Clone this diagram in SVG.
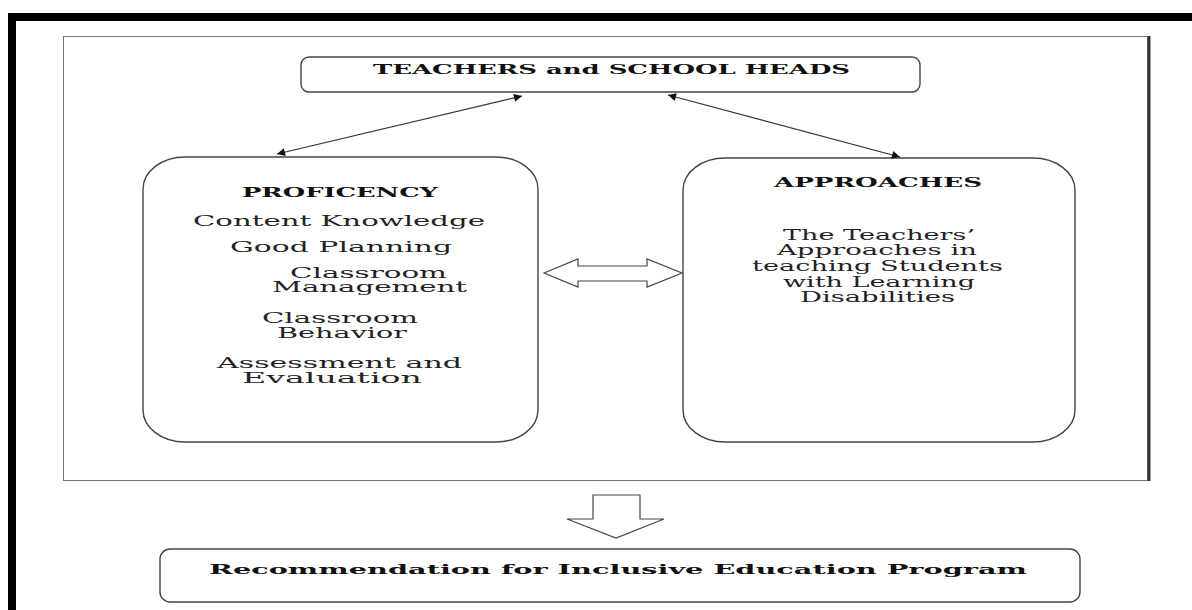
<svg xmlns="http://www.w3.org/2000/svg" width="1192" height="610" viewBox="0 0 1192 610">
<style>
.box{fill:#fff;stroke:#444;stroke-width:1.4}
.t{font-family:"DejaVu Serif","Liberation Serif",serif;font-size:14px;fill:#222}
.b{font-family:"DejaVu Serif","Liberation Serif",serif;font-size:13px;font-weight:bold;fill:#111}
.con{stroke:#333;stroke-width:1.2;fill:none}
.blk{fill:#fff;stroke:#444;stroke-width:1.2}
</style>
<defs>
<marker id="ah" viewBox="0 0 10 10" refX="10" refY="5" markerWidth="10" markerHeight="8" markerUnits="userSpaceOnUse" orient="auto-start-reverse">
<path d="M0,0 L10,5 L0,10 z" fill="#111"/>
</marker>
</defs>
<rect width="1192" height="610" fill="#fff"/>
<g id="frame">
<rect x="8" y="13" width="1184" height="8" fill="#000"/>
<rect x="8" y="13" width="8" height="597" fill="#000"/>
<rect x="63.5" y="36.5" width="1084" height="444" fill="none" stroke="#777" stroke-width="1"/>
<line x1="1149" y1="36" x2="1149" y2="481" stroke="#333" stroke-width="3"/>
</g>
<g id="teachers">
<rect class="box" x="301" y="57" width="619" height="35" rx="8" ry="8"/>
<text class="b" x="373" y="74" textLength="477" lengthAdjust="spacingAndGlyphs">TEACHERS and SCHOOL HEADS</text>
</g>
<g id="proficiency">
<rect class="box" x="143" y="157" width="395" height="285" rx="42" ry="32"/>
<text class="b" x="242" y="197" font-size="12" textLength="196" lengthAdjust="spacingAndGlyphs">PROFICENCY</text>
<text class="t" x="193" y="226" textLength="292" lengthAdjust="spacingAndGlyphs">Content Knowledge</text>
<text class="t" x="230" y="252" textLength="222" lengthAdjust="spacingAndGlyphs">Good Planning</text>
<text class="t" x="290" y="278" textLength="157" lengthAdjust="spacingAndGlyphs">Classroom</text>
<text class="t" x="272" y="292" textLength="195" lengthAdjust="spacingAndGlyphs">Management</text>
<text class="t" x="262" y="323" textLength="156" lengthAdjust="spacingAndGlyphs">Classroom</text>
<text class="t" x="277" y="338" textLength="130" lengthAdjust="spacingAndGlyphs">Behavior</text>
<text class="t" x="217" y="368" textLength="245" lengthAdjust="spacingAndGlyphs">Assessment and</text>
<text class="t" x="242" y="383" textLength="180" lengthAdjust="spacingAndGlyphs">Evaluation</text>
</g>
<g id="approaches">
<rect class="box" x="683" y="158" width="392" height="284" rx="42" ry="32"/>
<text class="b" x="774" y="187" textLength="208" lengthAdjust="spacingAndGlyphs">APPROACHES</text>
<text class="t" x="783" y="240" textLength="192" lengthAdjust="spacingAndGlyphs">The Teachers’</text>
<text class="t" x="777" y="255" textLength="200" lengthAdjust="spacingAndGlyphs">Approaches in</text>
<text class="t" x="752" y="271" textLength="251" lengthAdjust="spacingAndGlyphs">teaching Students</text>
<text class="t" x="783" y="287" textLength="192" lengthAdjust="spacingAndGlyphs">with Learning</text>
<text class="t" x="800" y="302" textLength="155" lengthAdjust="spacingAndGlyphs">Disabilities</text>
</g>
<g id="recommendation">
<rect class="box" x="160" y="549" width="920" height="53" rx="10" ry="10"/>
<text class="b" x="209" y="574" textLength="818" lengthAdjust="spacingAndGlyphs">Recommendation for Inclusive Education Program</text>
</g>
<g id="connectors">
<line class="con" x1="522" y1="96" x2="277" y2="154" marker-start="url(#ah)" marker-end="url(#ah)"/>
<line class="con" x1="668" y1="95" x2="900" y2="157" marker-start="url(#ah)" marker-end="url(#ah)"/>
<polygon class="blk" points="544,273 578,259 578,266 647,266 647,259 682,273 647,287 647,281 578,281 578,287"/>
<polygon class="blk" points="593,495 640,495 640,519 664,519 616,538 567,519 593,519"/>
</g>
</svg>
